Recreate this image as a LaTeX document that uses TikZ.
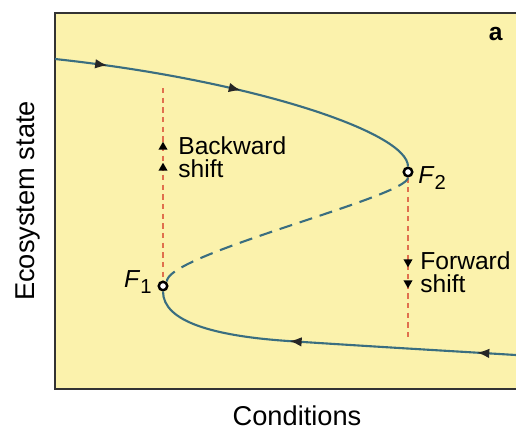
\documentclass[tikz,border=0pt]{standalone}
\usepackage{fontspec}
\setmainfont{Liberation Sans}
\usepackage{xcolor}
\definecolor{panelYellow}{HTML}{FBF2AC}
\definecolor{curveBlue}{HTML}{3A6E80}
\definecolor{shiftRed}{HTML}{E0704E}
\usetikzlibrary{decorations.markings,arrows.meta,shapes.geometric}

\newcommand{\subnum}[1]{\raisebox{-0.28em}{\fontsize{11.5}{11.5}\selectfont #1}}

\tikzset{
  fold/.style={circle, draw=black, fill=white, line width=1.4pt, minimum size=0.17cm, inner sep=0pt},
  branch/.style={draw=curveBlue, line width=1.2pt},
  flowtip/.tip={Latex[length=7pt,width=5.5pt,black!85]},
  shiftline/.style={draw=shiftRed, line width=0.7pt, dash pattern=on 3pt off 2.5pt},
  uptri/.style={regular polygon, regular polygon sides=3, fill=black, minimum size=0.21cm, inner sep=0pt},
  downtri/.style={uptri, shape border rotate=180},
  lbl/.style={inner sep=0pt, font=\fontsize{14}{14}\selectfont},
}

\begin{document}
\begin{tikzpicture}[x=0.02cm, y=-0.02cm]
  \useasboundingbox (0,0) rectangle (516,430);
  % panel
  \fill[panelYellow] (55,13) rectangle (516,389);
  \draw[line width=1pt, black!80] (516,13) -- (55,13) -- (55,389) -- (516,389);
  % fold points
  \node[fold] (F2) at (408,172) {};
  \node[fold] (F1) at (163,286) {};
  % shift lines
  \coordinate (backTop) at (163,88);
  \coordinate (fwdBot) at (408,338);
  \draw[shiftline] (backTop) -- (F1);
  \draw[shiftline] (F2) -- (fwdBot);
  % upper branch (stable)
  \draw[branch, postaction={decorate}, decoration={markings,
      mark=at position 0.14 with {\arrow{flowtip}},
      mark=at position 0.50 with {\arrow{flowtip}}}]
    (55,59) .. controls (250,80) and (408,132) .. (F2.north);
  % middle branch (unstable)
  \draw[branch, dash pattern=on 7.5pt off 4.5pt]
    (F2.south) .. controls (408,197) and (163,255) .. (F1.north east);
  % lower branch (stable)
  \draw[branch, postaction={decorate}, decoration={markings,
      mark=at position 0.39 with {\arrowreversed{flowtip}},
      mark=at position 0.895 with {\arrowreversed{flowtip}}}]
    (F1.south) .. controls (163,322) and (215,336) .. (288,341)
    .. controls (380,347) and (450,351) .. (516,355);
  % shift arrows
  \node[uptri] (bA) at (163,147) {};
  \node[uptri] (bB) at (163,168) {};
  \node[downtri] (fA) at (408,262) {};
  \node[downtri] (fB) at (408,283) {};
  % labels
  \node[lbl, anchor=base west] (backward) at (178,154) {Backward};
  \node[lbl, anchor=base west] (backshift) at (178,177) {shift};
  \node[lbl, anchor=base west] (forward) at (420,269) {Forward};
  \node[lbl, anchor=base west] (fwdshift) at (420,292) {shift};
  \node[lbl, anchor=base west] (F2lbl) at (418,183) {\textit{F}\subnum{2}};
  \node[lbl, anchor=base east] (F1lbl) at (152,287) {\textit{F}\subnum{1}};
  \node[inner sep=0pt, anchor=base east, font=\fontsize{14}{14}\selectfont\bfseries] (panel) at (503,40) {a};
  % axes
  \node[inner sep=0pt, anchor=base, font=\fontsize{15.5}{16}\selectfont] (xlabel) at (297,425) {Conditions};
  \node[inner sep=0pt, anchor=base, rotate=90, font=\fontsize{15.5}{16}\selectfont] (ylabel) at (34,201) {Ecosystem state};
\end{tikzpicture}
\end{document}
